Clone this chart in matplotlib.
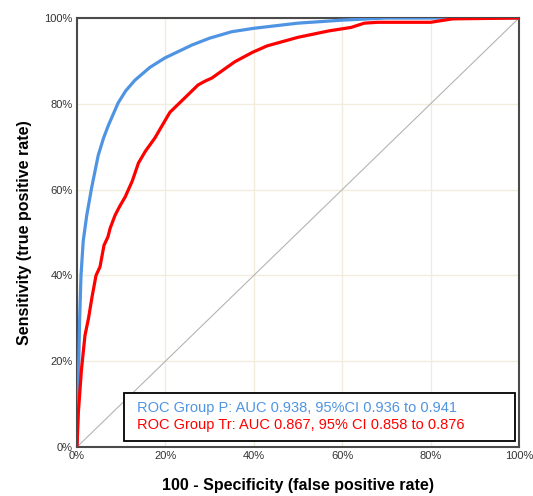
import matplotlib
matplotlib.use("Agg")
import matplotlib.pyplot as plt
from matplotlib.patches import Rectangle
from matplotlib.ticker import FuncFormatter

plt.rcParams['font.family'] = ['Liberation Sans', 'DejaVu Sans']

# ROC Group P (blue)
fpr_p = [0, 0.2, 0.4, 0.6, 0.9, 1.4, 2.2, 3.3, 4.8, 6.0, 7.1, 9.3, 11.0, 13.1, 16.5,
         19.9, 26.0, 30.0, 35.0, 40.0, 50.0, 60.0, 70.0, 100.0]
sens_p = [0, 10, 20, 30, 40, 48, 54, 60.4, 68, 72, 75, 80.2, 83, 85.5, 88.5,
          90.7, 93.7, 95.3, 96.8, 97.6, 98.8, 99.5, 100, 100]

# ROC Group Tr (red)
fpr_tr = [0, 0.3, 1.0, 1.8, 2.6, 3.4, 4.3, 5.2, 6.1, 7.0, 7.5, 8.6, 9.6, 10.9, 12.5,
          13.9, 15.5, 17.6, 21.0, 23.0, 24.4, 27.4, 29.0, 30.5, 35.7, 39.7, 43.0,
          50.0, 57.0, 62.0, 65.0, 68.0, 80.0, 85.0, 100.0]
sens_tr = [0, 8, 18, 26, 30, 35, 40, 42, 47, 49, 51, 54, 56, 58.3, 62,
           66.2, 69, 72, 78, 80, 81.4, 84.4, 85.3, 86, 89.8, 92, 93.5,
           95.5, 97, 97.8, 98.8, 99, 99, 99.8, 100]

labels = ['ROC Group P: AUC 0.938, 95%CI 0.936 to 0.941',
          'ROC Group Tr: AUC 0.867, 95% CI 0.858 to 0.876']
colors = ['#4f94e3', '#ff0000']

fig = plt.figure(figsize=(5.33, 4.96), dpi=100)
ax = fig.add_axes([0.1445, 0.0988, 0.8292, 0.8649])

ax.plot([0, 100], [0, 100], color='#b4b4b4', lw=0.8, zorder=1)
ax.plot(fpr_p, sens_p, color=colors[0], lw=2.3, zorder=3)
ax.plot(fpr_tr, sens_tr, color=colors[1], lw=2.3, zorder=3)

ax.set_xlim(0, 100)
ax.set_ylim(0, 100)
ticks = [0, 20, 40, 60, 80, 100]
ax.set_xticks(ticks)
ax.set_yticks(ticks)
pct = FuncFormatter(lambda v, p: '%d%%' % v)
ax.xaxis.set_major_formatter(pct)
ax.yaxis.set_major_formatter(pct)
ax.tick_params(length=0, labelsize=8, colors='#333333', pad=3)
ax.grid(True, color='#f1ecdc', lw=1.0, zorder=0)
ax.set_axisbelow(True)
for s in ax.spines.values():
    s.set_color('#4a4a4a')
    s.set_linewidth(1.5)

ax.set_xlabel('100 - Specificity (false positive rate)', fontsize=11.5,
              fontweight='bold', labelpad=12)
ax.set_ylabel('Sensitivity (true positive rate)', fontsize=11.5,
              fontweight='bold', labelpad=9)

# legend box (wider than the text, like the original)
ax.add_patch(Rectangle((0.106, 0.014), 0.885, 0.112, transform=ax.transAxes,
                       facecolor='white', edgecolor='black', lw=1.3, zorder=5))
for i, (lab, c) in enumerate(zip(labels, colors)):
    ax.text(0.136, 0.091 - i * 0.04, lab, color=c, fontsize=10.5,
            transform=ax.transAxes, va='center', ha='left', zorder=6)

fig.savefig('out.png', dpi=100)
